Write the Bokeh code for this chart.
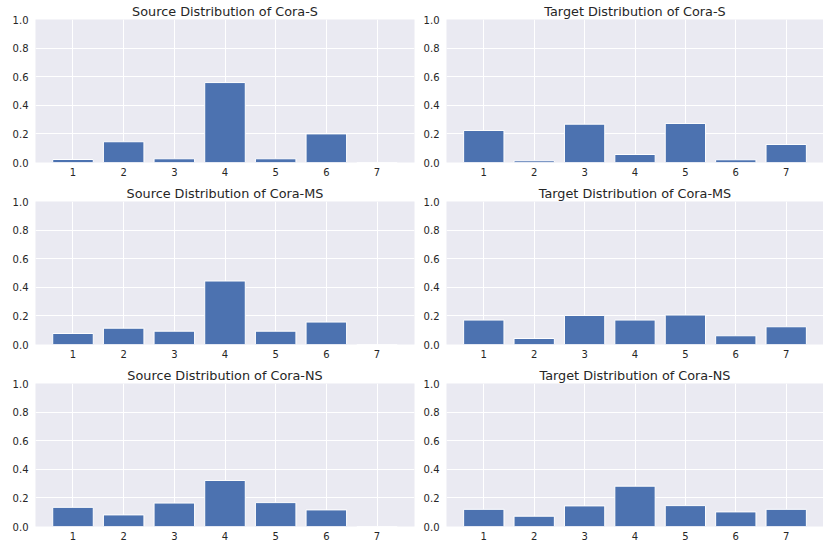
from bokeh.plotting import figure
from bokeh.layouts import gridplot
from bokeh.models import ColumnDataSource, FixedTicker, PrintfTickFormatter, Range1d
from bokeh.embed import file_html
from bokeh.resources import INLINE

classes = [1, 2, 3, 4, 5, 6, 7]
titles = [
    "Source Distribution of Cora-S", "Target Distribution of Cora-S",
    "Source Distribution of Cora-MS", "Target Distribution of Cora-MS",
    "Source Distribution of Cora-NS", "Target Distribution of Cora-NS",
]
source_cora_s = [0.021, 0.145, 0.026, 0.559, 0.026, 0.200, 0.0]
target_cora_s = [0.224, 0.012, 0.268, 0.056, 0.273, 0.019, 0.126]
source_cora_ms = [0.077, 0.114, 0.093, 0.444, 0.093, 0.157, 0.0]
target_cora_ms = [0.171, 0.042, 0.203, 0.171, 0.206, 0.061, 0.124]
source_cora_ns = [0.134, 0.081, 0.164, 0.322, 0.167, 0.116, 0.0]
target_cora_ns = [0.120, 0.072, 0.144, 0.282, 0.146, 0.102, 0.120]
y_ticks = [0.0, 0.2, 0.4, 0.6, 0.8, 1.0]

series = [source_cora_s, target_cora_s, source_cora_ms,
          target_cora_ms, source_cora_ns, target_cora_ns]

FONT = "DejaVu Sans"
TEXT = "#262626"
BAR = "#4C72B0"
BG = "#EAEAF2"

FRAME_H = 143
TOP = 19
BOTTOM = 20


def make(i, title, vals):
    left_col = (i % 2 == 0)
    if left_col:
        l, w, r = 35, 379, 4
    else:
        l, w, r = 28, 377, 0
    p = figure(width=l + w + r, height=TOP + FRAME_H + BOTTOM,
               output_backend="svg", toolbar_location=None,
               x_range=Range1d(0.26, 7.74), y_range=Range1d(0, 1),
               min_border_left=l, min_border_right=r,
               min_border_top=TOP, min_border_bottom=BOTTOM)
    p.title.text = title
    p.title.text_font = FONT
    p.title.text_font_size = "12.8px"
    p.title.text_font_style = "normal"
    p.title.text_color = TEXT
    p.title.align = "center"
    p.title.standoff = 1
    p.background_fill_color = BG
    p.border_fill_color = "white"
    p.outline_line_color = None
    src = ColumnDataSource(dict(x=classes, top=vals))
    p.vbar(x="x", top="top", bottom=0, width=0.8, source=src,
           fill_color=BAR, line_color="white", line_width=1)
    for ax in (p.xaxis, p.yaxis):
        ax.axis_line_color = None
        ax.major_tick_line_color = None
        ax.minor_tick_line_color = None
        ax.major_tick_out = 0
        ax.major_tick_in = 0
        ax.major_label_text_font = FONT
        ax.major_label_text_font_size = "10px"
        ax.major_label_text_color = TEXT
    p.xaxis.ticker = FixedTicker(ticks=classes)
    p.xaxis.major_label_standoff = 5
    p.yaxis.ticker = FixedTicker(ticks=y_ticks)
    p.yaxis.formatter = PrintfTickFormatter(format="%.1f")
    p.yaxis.major_label_standoff = 7
    p.xgrid.ticker = FixedTicker(ticks=classes)
    p.ygrid.ticker = FixedTicker(ticks=y_ticks)
    for g in (p.xgrid, p.ygrid):
        g.grid_line_color = "white"
        g.grid_line_width = 1
    return p


plots = [make(i, t, v) for i, (t, v) in enumerate(zip(titles, series))]
grid = gridplot([plots[0:2], plots[2:4], plots[4:6]], toolbar_location=None)

open("out.html", "w").write(file_html(grid, INLINE))
